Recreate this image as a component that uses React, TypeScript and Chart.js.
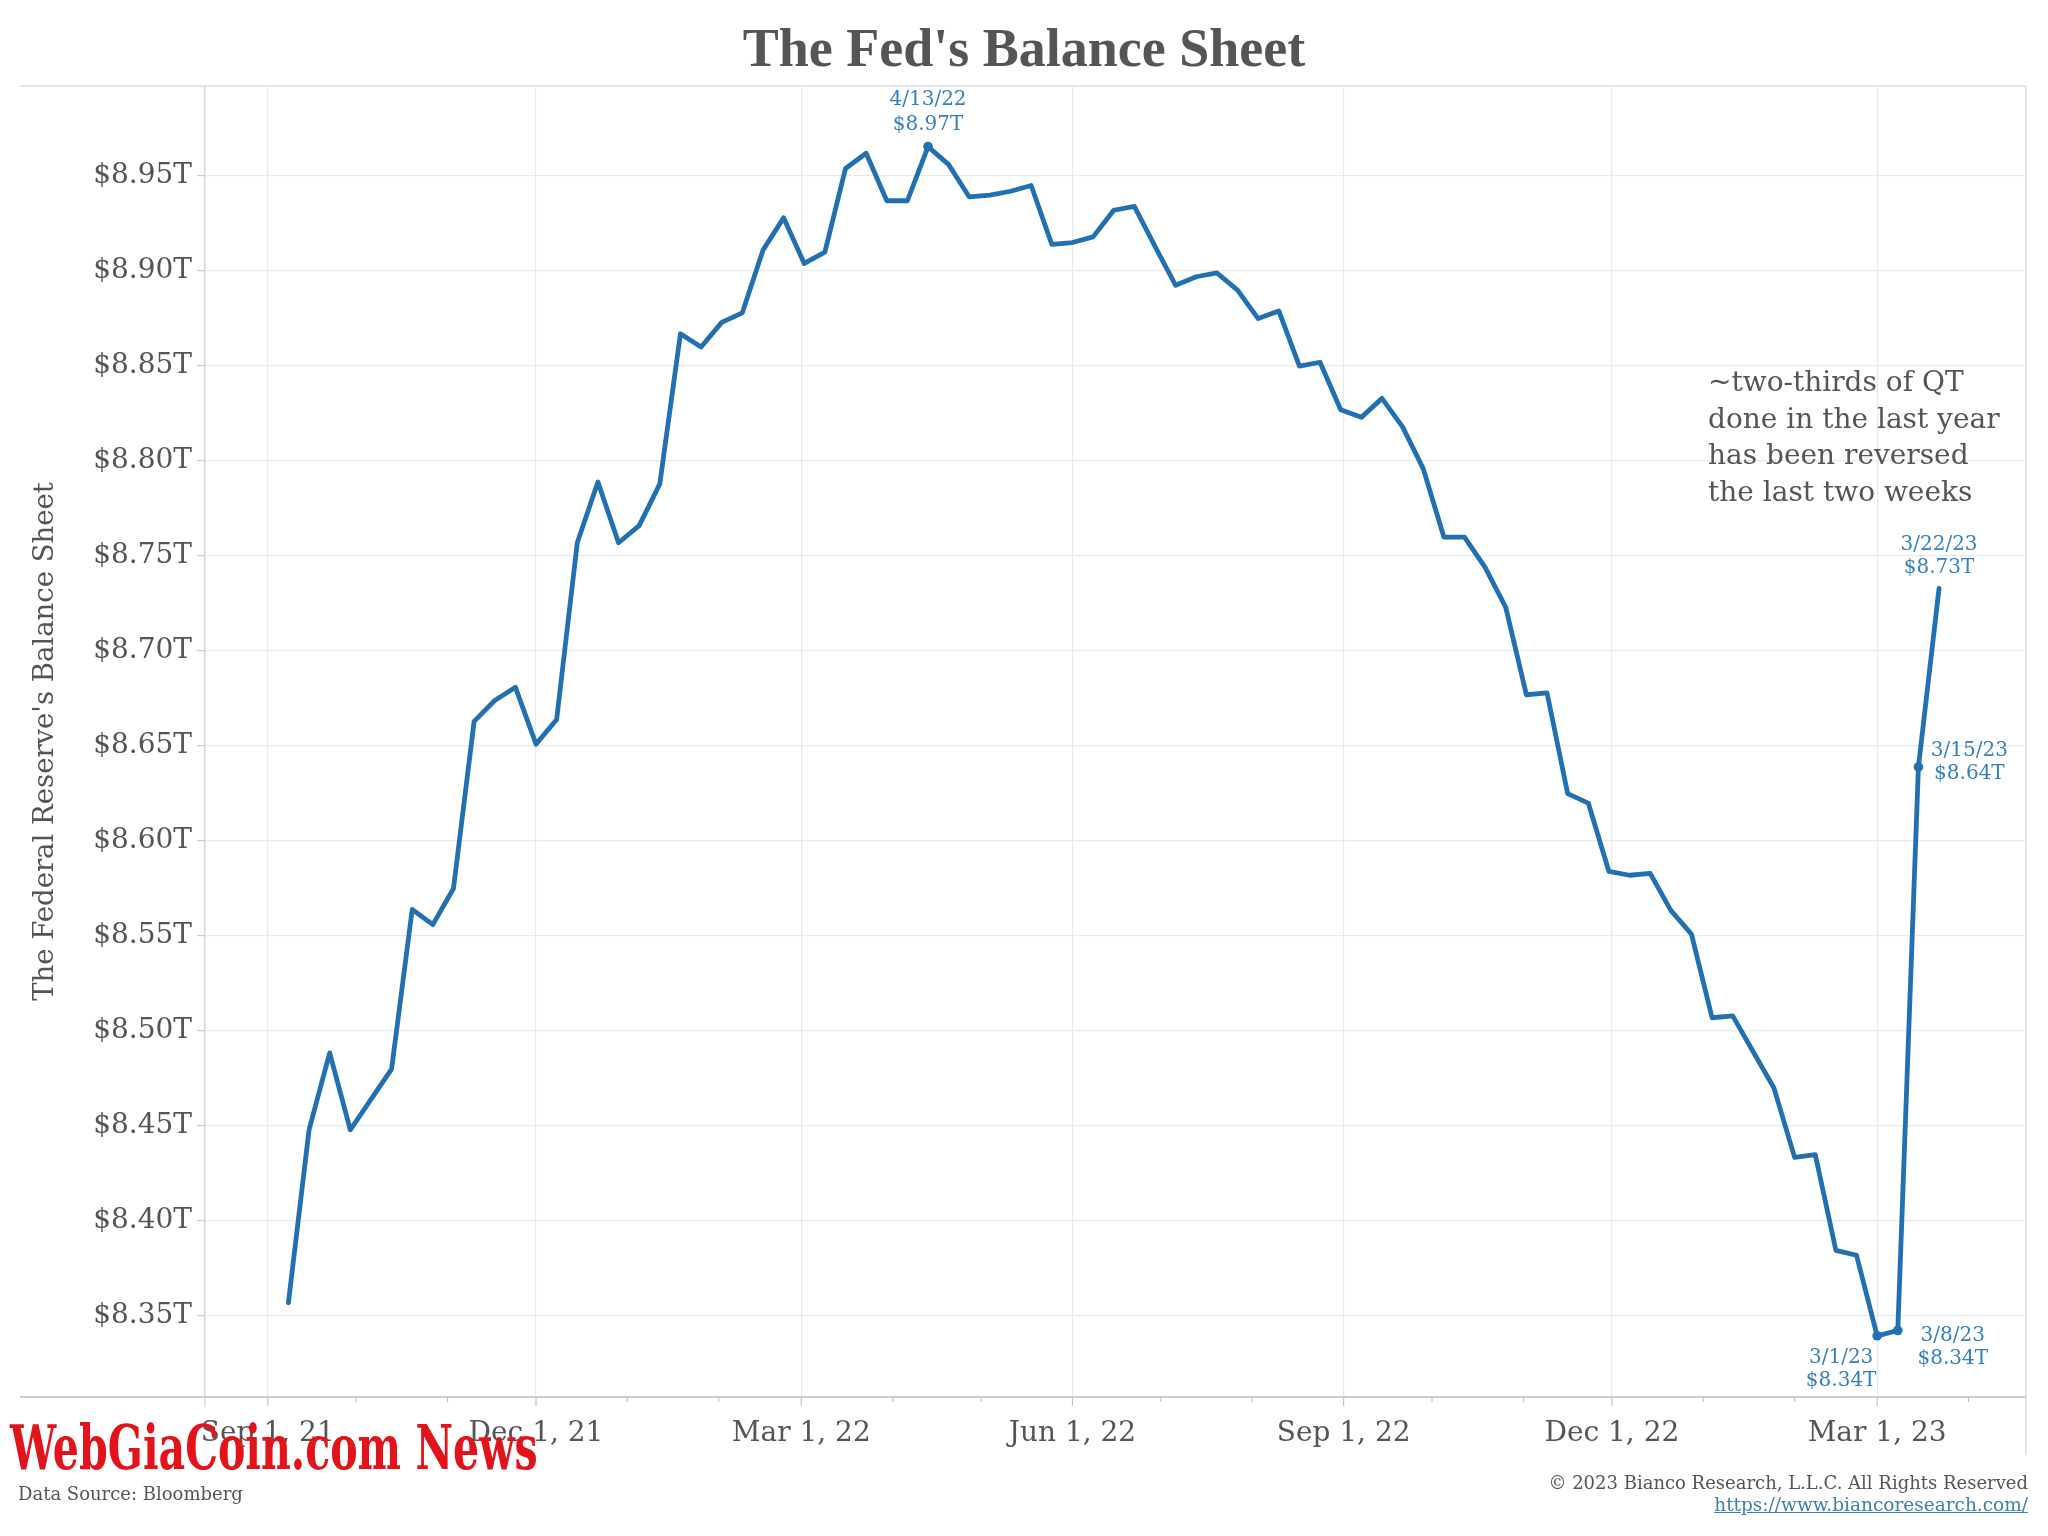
import React, { useEffect, useRef } from 'react';
import { Chart, registerables } from 'chart.js';

Chart.register(...registerables);

// ---------------- data ----------------
const DATES: string[] = [
  '9/8/21', '9/15/21', '9/22/21', '9/29/21', '10/6/21', '10/13/21', '10/20/21', '10/27/21',
  '11/3/21', '11/10/21', '11/17/21', '11/24/21', '12/1/21', '12/8/21', '12/15/21', '12/22/21', '12/29/21',
  '1/5/22', '1/12/22', '1/19/22', '1/26/22', '2/2/22', '2/9/22', '2/16/22', '2/23/22',
  '3/2/22', '3/9/22', '3/16/22', '3/23/22', '3/30/22', '4/6/22', '4/13/22', '4/20/22', '4/27/22',
  '5/4/22', '5/11/22', '5/18/22', '5/25/22', '6/1/22', '6/8/22', '6/15/22', '6/22/22', '6/29/22',
  '7/6/22', '7/13/22', '7/20/22', '7/27/22', '8/3/22', '8/10/22', '8/17/22', '8/24/22', '8/31/22',
  '9/7/22', '9/14/22', '9/21/22', '9/28/22', '10/5/22', '10/12/22', '10/19/22', '10/26/22',
  '11/2/22', '11/9/22', '11/16/22', '11/23/22', '11/30/22', '12/7/22', '12/14/22', '12/21/22', '12/28/22',
  '1/4/23', '1/11/23', '1/18/23', '1/25/23', '2/1/23', '2/8/23', '2/15/23', '2/22/23',
  '3/1/23', '3/8/23', '3/15/23', '3/22/23',
];

// Fed balance sheet, trillions of dollars
const VALUES: number[] = [
  8.357, 8.448, 8.4885, 8.448, 8.464, 8.480, 8.564, 8.556, 8.575, 8.663,
  8.674, 8.681, 8.651, 8.664, 8.757, 8.789, 8.757, 8.766, 8.788, 8.867,
  8.860, 8.873, 8.878, 8.911, 8.928, 8.904, 8.910, 8.954, 8.962, 8.937,
  8.937, 8.9655, 8.956, 8.939, 8.940, 8.942, 8.945, 8.914, 8.915, 8.918,
  8.932, 8.934, 8.913, 8.8925, 8.897, 8.899, 8.890, 8.875, 8.879, 8.850,
  8.852, 8.827, 8.823, 8.833, 8.818, 8.796, 8.760, 8.760, 8.744, 8.723,
  8.677, 8.678, 8.625, 8.620, 8.584, 8.582, 8.583, 8.5635, 8.551, 8.507,
  8.508, 8.489, 8.470, 8.4335, 8.435, 8.3846, 8.382, 8.3396, 8.3424, 8.639, 8.733,
];

const Y_TICKS: number[] = [8.35, 8.40, 8.45, 8.50, 8.55, 8.60, 8.65, 8.70, 8.75, 8.80, 8.85, 8.90, 8.95];
const Y_MIN = 8.3074;
const Y_MAX = 8.9974;

const X_TICK_DATES: string[] = [
  '9/1/21', '10/1/21', '11/1/21', '12/1/21', '1/1/22', '2/1/22', '3/1/22', '4/1/22', '5/1/22', '6/1/22',
  '7/1/22', '8/1/22', '9/1/22', '10/1/22', '11/1/22', '12/1/22', '1/1/23', '2/1/23', '3/1/23', '4/1/23',
];
const X_TICK_LABELS: string[] = [
  'Sep 1, 21', '', '', 'Dec 1, 21', '', '', 'Mar 1, 22', '', '', 'Jun 1, 22',
  '', '', 'Sep 1, 22', '', '', 'Dec 1, 22', '', '', 'Mar 1, 23', '',
];
// axis range in days relative to 9/1/21
const X_MIN = -21.3;
const X_MAX = 596.5;

const DOT_DATES: string[] = ['4/13/22', '3/1/23', '3/8/23', '3/15/23'];
const CALLOUT_DATES: string[] = ['4/13/22', '3/22/23', '3/15/23', '3/8/23', '3/1/23'];

const TITLE = "The Fed's Balance Sheet";
const Y_TITLE = "The Federal Reserve's Balance Sheet";
const NOTE_LINES: string[] = ['~two-thirds of QT', 'done in the last year', 'has been reversed', 'the last two weeks'];
const SOURCE = 'Data Source: Bloomberg';
const COPYRIGHT = '\u00A9 2023 Bianco Research, L.L.C. All Rights Reserved';
const URL_TEXT = 'https://www.biancoresearch.com/';
const WATERMARK = 'WebGiaCoin.com News';

// ---------------- helpers / styles ----------------
const BASE = Date.UTC(2021, 8, 1);
function dayOf(s: string): number {
  const [m, d, y] = s.split('/').map(Number);
  return (Date.UTC(2000 + y, m - 1, d) - BASE) / 86400000;
}
function fmtT(v: number): string {
  return '$' + v.toFixed(2) + 'T';
}

const LINE_COLOR = '#2170b2';
const LABEL_COLOR = '#3580bd';
const TEXT = '#555555';
const SERIF = "'DejaVu Serif', serif";

const CALLOUT_STYLE: Record<string, { dx: number; dy: [number, number] }> = {
  '4/13/22': { dx: 0, dy: [-47, -22] },
  '3/22/23': { dx: 0, dy: [-44, -21] },
  '3/15/23': { dx: 51, dy: [-16, 7] },
  '3/8/23': { dx: 55, dy: [5, 28] },
  '3/1/23': { dx: -36, dy: [22, 45] },
};

const framePlugin = {
  id: 'frame',
  beforeDatasetsDraw(chart: any) {
    const { ctx, chartArea: a } = chart;
    const x = chart.scales.x;
    ctx.save();
    const seg = (x1: number, y1: number, x2: number, y2: number) => {
      ctx.beginPath();
      ctx.moveTo(x1, y1);
      ctx.lineTo(x2, y2);
      ctx.stroke();
    };
    ctx.strokeStyle = '#dcdcdc';
    ctx.lineWidth = 1.5;
    seg(20, a.top, a.right, a.top);
    seg(a.right, a.top, a.right, a.bottom + 58);
    seg(a.left, a.bottom, a.left, a.bottom + 10);
    ctx.strokeStyle = '#cdcdcd';
    ctx.lineWidth = 2;
    seg(20, a.bottom, a.right, a.bottom);
    ctx.lineWidth = 1.2;
    ctx.strokeStyle = '#c4c4c4';
    x.ticks.forEach((t: any, i: number) => {
      const px = x.getPixelForValue(t.value);
      const len = X_TICK_LABELS[i] ? 9 : 5;
      seg(px, a.bottom, px, a.bottom + len);
    });
    ctx.restore();
  },
  afterDatasetsDraw(chart: any) {
    const { ctx } = chart;
    const xs = chart.scales.x;
    const ys = chart.scales.y;
    ctx.save();
    ctx.font = `20px ${SERIF}`;
    ctx.fillStyle = LABEL_COLOR;
    ctx.textAlign = 'center';
    ctx.textBaseline = 'middle';
    CALLOUT_DATES.forEach((d) => {
      const i = DATES.indexOf(d);
      const st = CALLOUT_STYLE[d];
      const px = xs.getPixelForValue(dayOf(d));
      const py = ys.getPixelForValue(VALUES[i]);
      ctx.fillText(d, px + st.dx, py + st.dy[0]);
      ctx.fillText(fmtT(VALUES[i]), px + st.dx, py + st.dy[1]);
    });
    ctx.restore();
  },
};

export default function App() {
  const canvasRef = useRef<HTMLCanvasElement>(null);
  const wmRef = useRef<HTMLDivElement>(null);

  useEffect(() => {
    const wm = wmRef.current;
    if (wm) {
      const w = wm.scrollWidth;
      if (w > 0) wm.style.transform = `scaleX(${528 / w})`;
    }
    const canvas = canvasRef.current;
    if (!canvas) return;
    const points = DATES.map((d, i) => ({ x: dayOf(d), y: VALUES[i] }));
    const dots = DATES.map((d) => (DOT_DATES.includes(d) ? 4.8 : 0));
    const tickFont = { family: SERIF, size: 28 };
    const chart = new Chart(canvas, {
      type: 'line',
      data: {
        datasets: [
          {
            data: points,
            borderColor: LINE_COLOR,
            backgroundColor: LINE_COLOR,
            borderWidth: 4.8,
            pointRadius: dots,
            pointHoverRadius: dots,
            pointBackgroundColor: LINE_COLOR,
            pointBorderWidth: 0,
            tension: 0,
            borderJoinStyle: 'round',
            borderCapStyle: 'round',
          } as any,
        ],
      },
      options: {
        animation: false,
        responsive: false,
        maintainAspectRatio: false,
        devicePixelRatio: 1,
        layout: { padding: { top: 86, right: 22, bottom: 0, left: 0 } },
        plugins: { legend: { display: false }, tooltip: { enabled: false }, title: { display: false } },
        scales: {
          x: {
            type: 'linear',
            min: X_MIN,
            max: X_MAX,
            afterBuildTicks: (s: any) => {
              s.ticks = X_TICK_DATES.map((d) => ({ value: dayOf(d) }));
            },
            afterFit: (s: any) => {
              s.height = 139;
            },
            ticks: {
              autoSkip: false,
              maxRotation: 0,
              minRotation: 0,
              padding: 20,
              font: tickFont,
              color: TEXT,
              callback: (_v: any, i: number) => X_TICK_LABELS[i],
            },
            grid: {
              color: (c: any) => (X_TICK_LABELS[c.index] ? '#e8e8e8' : 'rgba(0,0,0,0)'),
              lineWidth: 1.2,
              drawTicks: false,
            },
            border: { display: false },
          },
          y: {
            type: 'linear',
            min: Y_MIN,
            max: Y_MAX,
            afterBuildTicks: (s: any) => {
              s.ticks = Y_TICKS.map((v) => ({ value: v }));
            },
            afterFit: (s: any) => {
              s.width = 205;
            },
            ticks: {
              autoSkip: false,
              padding: 5,
              font: tickFont,
              color: TEXT,
              callback: (v: any) => fmtT(Number(v)),
            },
            grid: { color: '#eaeaea', lineWidth: 1.2, tickColor: '#cccccc', tickLength: 8 },
            border: { color: '#d6d6d6', width: 1.5 },
            title: {
              display: true,
              text: Y_TITLE,
              color: TEXT,
              font: { family: SERIF, size: 27.5 },
              padding: { top: 29, bottom: 0 },
            },
          },
        },
      } as any,
      plugins: [framePlugin],
    });
    return () => chart.destroy();
  }, []);

  return (
    <div
      style={{
        position: 'fixed',
        left: 0,
        top: 0,
        width: 2048,
        height: 1536,
        background: '#ffffff',
        overflow: 'hidden',
      }}
    >
      <canvas ref={canvasRef} width={2048} height={1536} style={{ position: 'absolute', left: 0, top: 0, width: 2048, height: 1536 }} />
      <div
        style={{
          position: 'absolute',
          left: 0,
          top: 21,
          width: 2048,
          textAlign: 'center',
          font: "bold 54px 'Liberation Serif', serif",
          lineHeight: '54px',
          color: TEXT,
        }}
      >
        {TITLE}
      </div>
      <div
        style={{
          position: 'absolute',
          left: 1708,
          top: 364,
          font: `28px ${SERIF}`,
          lineHeight: '36.7px',
          color: TEXT,
          whiteSpace: 'pre',
        }}
      >
        {NOTE_LINES.map((l, i) => (
          <div key={i}>{l}</div>
        ))}
      </div>
      <div
        style={{ position: 'absolute', left: 18, top: 1485, font: `18px ${SERIF}`, lineHeight: '18px', color: TEXT, whiteSpace: 'pre' }}
      >
        {SOURCE}
      </div>
      <div
        style={{
          position: 'absolute',
          right: 20,
          top: 1474,
          font: `18px ${SERIF}`,
          lineHeight: '18px',
          color: TEXT,
          whiteSpace: 'pre',
          textAlign: 'right',
        }}
      >
        {COPYRIGHT}
      </div>
      <div
        style={{
          position: 'absolute',
          right: 20,
          top: 1496,
          font: `18.5px ${SERIF}`,
          lineHeight: '18.5px',
          color: '#3b82a8',
          whiteSpace: 'pre',
          textDecoration: 'underline',
        }}
      >
        {URL_TEXT}
      </div>
      <div
        ref={wmRef}
        style={{
          position: 'absolute',
          left: 10,
          top: 1417,
          font: `bold 62px ${SERIF}`,
          lineHeight: '62px',
          color: '#e3131b',
          whiteSpace: 'pre',
          transformOrigin: '0 0',
        }}
      >
        {WATERMARK}
      </div>
    </div>
  );
}
